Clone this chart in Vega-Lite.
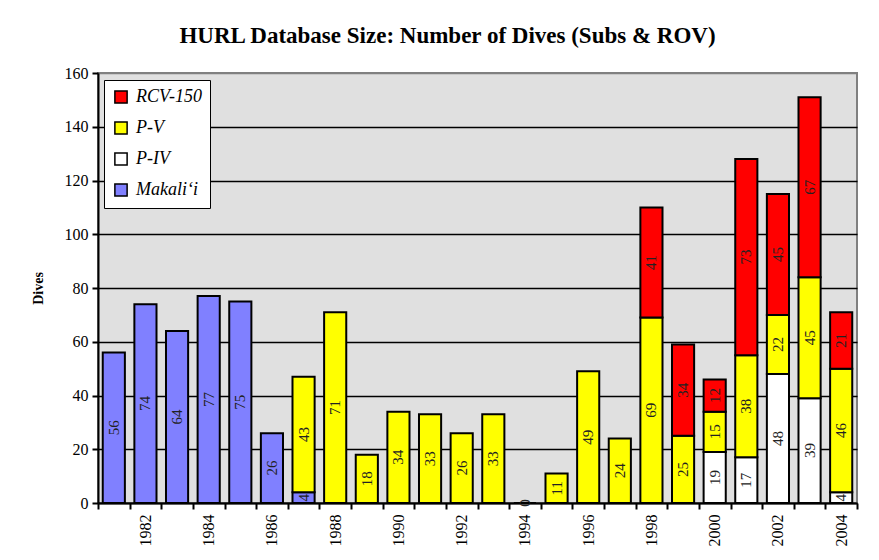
{
  "$schema": "https://vega.github.io/schema/vega-lite/v6.json",
  "width": 759,
  "height": 430,
  "autosize": {"type": "none"},
  "padding": {"left": 98, "top": 73, "right": 22, "bottom": 57},
  "background": "white",
  "title": {
    "text": "HURL Database Size: Number of Dives (Subs & ROV)",
    "font": "Liberation Serif",
    "fontSize": 23,
    "fontWeight": "bold",
    "color": "black",
    "anchor": "middle",
    "dx": -30,
    "offset": 17
  },
  "config": {
    "view": {"fill": "#e0e0e0", "stroke": "#808080", "strokeWidth": 2},
    "axis": {"labelFont": "Liberation Serif", "titleFont": "Liberation Serif", "labelColor": "black", "titleColor": "black"}
  },
  "data": {
    "values": [
      {"year": 1981, "series": "Makali‘i", "ord": 1, "dives": 56},
      {"year": 1982, "series": "Makali‘i", "ord": 1, "dives": 74},
      {"year": 1983, "series": "Makali‘i", "ord": 1, "dives": 64},
      {"year": 1984, "series": "Makali‘i", "ord": 1, "dives": 77},
      {"year": 1985, "series": "Makali‘i", "ord": 1, "dives": 75},
      {"year": 1986, "series": "Makali‘i", "ord": 1, "dives": 26},
      {"year": 1987, "series": "Makali‘i", "ord": 1, "dives": 4},
      {"year": 1987, "series": "P-V", "ord": 3, "dives": 43},
      {"year": 1988, "series": "P-V", "ord": 3, "dives": 71},
      {"year": 1989, "series": "P-V", "ord": 3, "dives": 18},
      {"year": 1990, "series": "P-V", "ord": 3, "dives": 34},
      {"year": 1991, "series": "P-V", "ord": 3, "dives": 33},
      {"year": 1992, "series": "P-V", "ord": 3, "dives": 26},
      {"year": 1993, "series": "P-V", "ord": 3, "dives": 33},
      {"year": 1994, "series": "P-V", "ord": 3, "dives": 0},
      {"year": 1995, "series": "P-V", "ord": 3, "dives": 11},
      {"year": 1996, "series": "P-V", "ord": 3, "dives": 49},
      {"year": 1997, "series": "P-V", "ord": 3, "dives": 24},
      {"year": 1998, "series": "P-V", "ord": 3, "dives": 69},
      {"year": 1998, "series": "RCV-150", "ord": 4, "dives": 41},
      {"year": 1999, "series": "P-V", "ord": 3, "dives": 25},
      {"year": 1999, "series": "RCV-150", "ord": 4, "dives": 34},
      {"year": 2000, "series": "P-IV", "ord": 2, "dives": 19},
      {"year": 2000, "series": "P-V", "ord": 3, "dives": 15},
      {"year": 2000, "series": "RCV-150", "ord": 4, "dives": 12},
      {"year": 2001, "series": "P-IV", "ord": 2, "dives": 17},
      {"year": 2001, "series": "P-V", "ord": 3, "dives": 38},
      {"year": 2001, "series": "RCV-150", "ord": 4, "dives": 73},
      {"year": 2002, "series": "P-IV", "ord": 2, "dives": 48},
      {"year": 2002, "series": "P-V", "ord": 3, "dives": 22},
      {"year": 2002, "series": "RCV-150", "ord": 4, "dives": 45},
      {"year": 2003, "series": "P-IV", "ord": 2, "dives": 39},
      {"year": 2003, "series": "P-V", "ord": 3, "dives": 45},
      {"year": 2003, "series": "RCV-150", "ord": 4, "dives": 67},
      {"year": 2004, "series": "P-IV", "ord": 2, "dives": 4},
      {"year": 2004, "series": "P-V", "ord": 3, "dives": 46},
      {"year": 2004, "series": "RCV-150", "ord": 4, "dives": 21}
    ]
  },
  "encoding": {
    "x": {
      "field": "year",
      "type": "ordinal",
      "scale": {"paddingInner": 0, "paddingOuter": 0},
      "axis": {
        "title": null,
        "tickBand": "extent",
        "labelAngle": -90,
        "labelAlign": "right",
        "labelBaseline": "middle",
        "labelFontSize": 16,
        "labelPadding": 5,
        "labelExpr": "datum.value % 2 == 0 ? datum.label : ''",
        "tickSize": 6,
        "tickWidth": 2,
        "tickColor": "black",
        "domainColor": "black",
        "domainWidth": 2,
        "grid": false
      }
    },
    "y": {
      "field": "dives",
      "type": "quantitative",
      "stack": "zero",
      "scale": {"domain": [0, 160], "nice": false},
      "axis": {
        "title": "Dives",
        "titleFontSize": 14,
        "titleFontWeight": "bold",
        "titlePadding": 19,
        "values": [0, 20, 40, 60, 80, 100, 120, 140, 160],
        "labelFontSize": 16,
        "labelPadding": 4,
        "tickSize": 6,
        "tickWidth": 2,
        "tickColor": "black",
        "domainColor": "black",
        "domainWidth": 2,
        "grid": true,
        "gridColor": {"condition": {"test": "datum.value == 160", "value": "#808080"}, "value": "black"},
        "gridWidth": 1.5
      }
    },
    "order": {"field": "ord", "type": "quantitative"}
  },
  "layer": [
    {
      "mark": {"type": "bar", "width": {"band": 0.7}, "stroke": "black", "strokeWidth": 2},
      "encoding": {
        "color": {
          "field": "series",
          "type": "nominal",
          "scale": {
            "domain": ["RCV-150", "P-V", "P-IV", "Makali‘i"],
            "range": ["#ff0000", "#ffff00", "#ffffff", "#8080ff"]
          },
          "legend": {
            "title": null,
            "orient": "none",
            "legendX": 6,
            "legendY": 7,
            "fillColor": "white",
            "strokeColor": "black",
            "padding": 8,
            "symbolType": "square",
            "symbolSize": 150,
            "symbolStrokeColor": "black",
            "symbolStrokeWidth": 1.5,
            "labelFont": "Liberation Serif",
            "labelFontStyle": "italic",
            "labelFontSize": 18,
            "labelOffset": 6,
            "labelColor": "black",
            "labelLimit": 200,
            "rowPadding": 11
          }
        }
      }
    },
    {
      "mark": {"type": "text", "angle": 270, "font": "Liberation Serif", "fontSize": 15, "color": "#222", "align": "center", "baseline": "middle"},
      "encoding": {
        "y": {"field": "dives", "type": "quantitative", "stack": "zero", "bandPosition": 0.5},
        "text": {"field": "dives", "type": "quantitative"}
      }
    }
  ]
}
